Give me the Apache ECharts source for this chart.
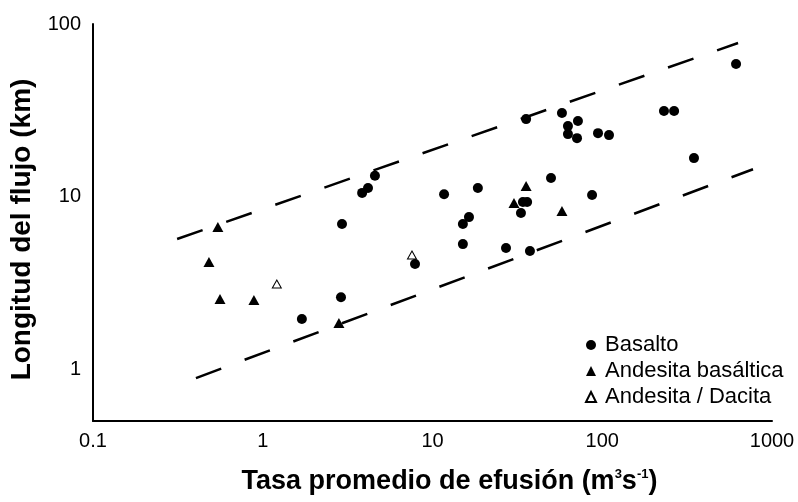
<!DOCTYPE html>
<html><head><meta charset="utf-8">
<script src="https://cdn.jsdelivr.net/npm/echarts@6/dist/echarts.min.js"></script>
<style>html,body{margin:0;padding:0;background:#fff}#c{width:798px;height:502px}</style>
</head><body><div id="c"></div>
<script>
// ---- data ----
const xTicks = [0.1, 1, 10, 100, 1000];
const yTicks = [1, 10, 100];
const seriesNames = ['Basalto', 'Andesita basáltica', 'Andesita / Dacita'];

const basaltoX = [4.58, 4.17, 3.85, 2.93, 2.89, 1.70, 7.89, 11.7, 18.5, 16.4, 15.1, 15.1, 27.1, 37.5, 34.1, 36.1, 33.2, 49.9, 87.1, 35.6, 57.9, 71.9, 62.8, 62.8, 71.0, 94.4, 109.6, 231, 265, 347, 614];
const basaltoY = [13.2, 11.2, 10.5, 6.93, 2.61, 1.95, 4.06, 10.3, 11.2, 7.60, 6.93, 5.30, 5.03, 4.83, 9.30, 9.30, 8.02, 12.8, 10.2, 28.1, 30.5, 27.4, 25.6, 23.0, 21.8, 23.3, 22.7, 31.3, 31.3, 16.7, 58.6];

const andBasX = [0.544, 0.482, 0.560, 0.887, 2.81, 35.6, 30.2, 57.9];
const andBasY = [6.66, 4.17, 2.55, 2.51, 1.85, 11.5, 9.17, 8.24];

const andDacX = [1.21, 7.57];
const andDacY = [3.11, 4.58];

const upperX = [0.313, 631];
const upperY = [5.67, 77.6];
const lowerX = [0.404, 773];
const lowerY = [0.887, 14.4];

// ---- helpers ----
const zip = (xs, ys) => xs.map((x, i) => [x, ys[i]]);
const FONT = "'Liberation Sans', Arial, Helvetica, sans-serif";
function tickFmt(list) {
  return function (v) {
    for (const t of list) {
      if (Math.abs(Math.log10(v) - Math.log10(t)) < 1e-6) return String(t);
    }
    return '';
  };
}

const chart = echarts.init(document.getElementById('c'), null, { renderer: 'canvas' });
const dashed = { color: '#000', width: 2.5, type: [27, 25] };

chart.setOption({
  animation: false,
  backgroundColor: '#fff',
  grid: { left: 93, top: 24, right: 26, bottom: 81, containLabel: false, outerBoundsMode: 'none' },
  xAxis: {
    type: 'log', logBase: 10, min: 0.1, max: 1000,
    axisLine: { show: true, lineStyle: { color: '#000', width: 2 } },
    axisTick: { show: false },
    splitLine: { show: false },
    axisLabel: { color: '#000', fontSize: 20, fontFamily: FONT, margin: 10, formatter: tickFmt(xTicks), showMinLabel: true, showMaxLabel: true, hideOverlap: false },
    name: 'Tasa promedio de efusión (m{sup|3}s{sup|-1})',
    nameLocation: 'middle', nameGap: 47,
    nameTextStyle: {
      color: '#000', fontSize: 27, fontWeight: 'bold', fontFamily: FONT,
      padding: [0, 0, 0, 34],
      rich: { sup: { fontSize: 13, fontWeight: 'bold', fontFamily: FONT, color: '#000', verticalAlign: 'top' } }
    }
  },
  yAxis: {
    type: 'log', logBase: 10, min: 0.5, max: 100,
    axisLine: { show: true, lineStyle: { color: '#000', width: 2 } },
    axisTick: { show: false },
    splitLine: { show: false },
    axisLabel: { color: '#000', fontSize: 20, fontFamily: FONT, margin: 12, formatter: tickFmt(yTicks), hideOverlap: false },
    name: 'Longitud del flujo (km)',
    nameLocation: 'middle', nameGap: 37,
    nameTextStyle: { color: '#000', fontSize: 28, fontWeight: 'bold', fontFamily: FONT, padding: [0, 14, 0, 0] }
  },
  legend: {
    data: seriesNames,
    orient: 'vertical',
    left: 585, top: 334,
    itemWidth: 10, itemHeight: 10, itemGap: 4,
    padding: 0,
    selectedMode: false,
    textStyle: { color: '#000', fontSize: 22, fontFamily: FONT, padding: [0, 0, 0, 4] }
  },
  series: [
    { type: 'line', name: 'upper', data: zip(upperX, upperY), showSymbol: false, symbol: 'none', lineStyle: dashed, silent: true, z: 1 },
    { type: 'line', name: 'lower', data: zip(lowerX, lowerY), showSymbol: false, symbol: 'none', lineStyle: dashed, silent: true, z: 1 },
    { type: 'scatter', name: seriesNames[0], data: zip(basaltoX, basaltoY), symbol: 'circle', symbolSize: 10, itemStyle: { color: '#000', opacity: 1 }, z: 3 },
    { type: 'scatter', name: seriesNames[1], data: zip(andBasX, andBasY), symbol: 'triangle', symbolSize: [11, 10], itemStyle: { color: '#000', opacity: 1 }, z: 3 },
    { type: 'scatter', name: seriesNames[2], data: zip(andDacX, andDacY), symbol: 'triangle', symbolSize: [9, 8], itemStyle: { color: '#fff', borderColor: '#000', borderWidth: 1, opacity: 1 }, z: 4 }
  ]
});
</script>
</body></html>
